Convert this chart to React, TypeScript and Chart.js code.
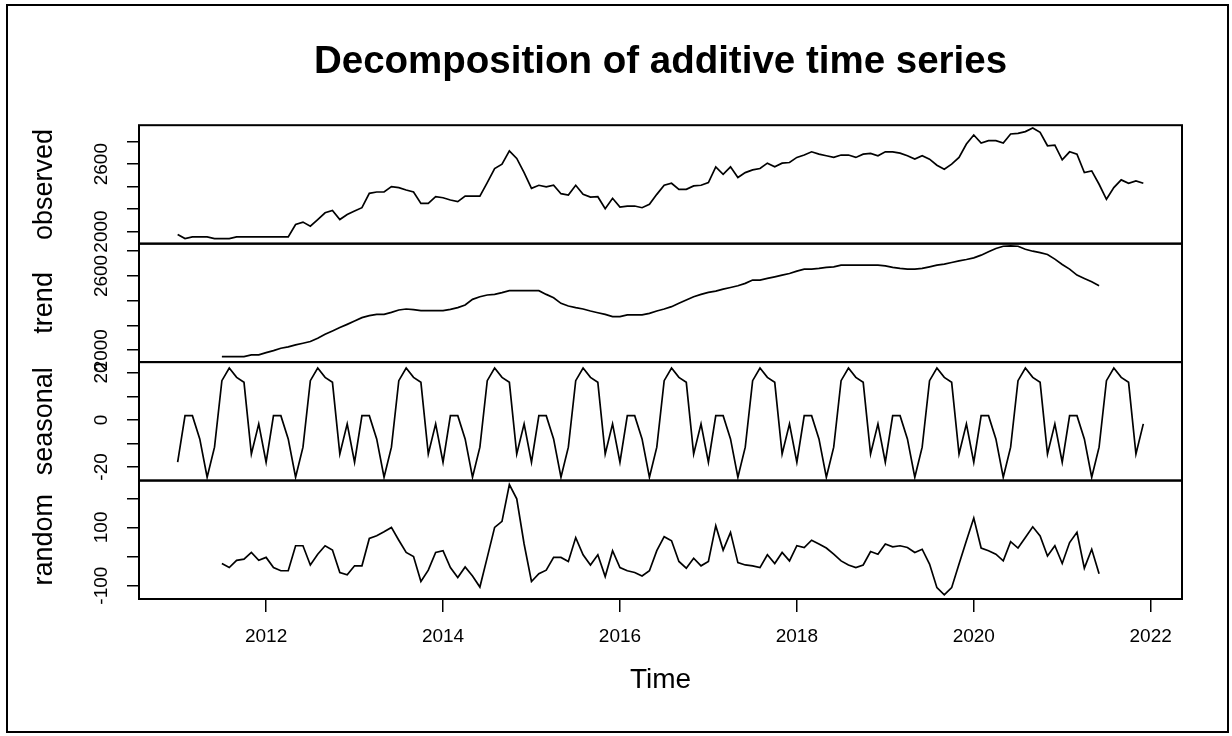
import React, { useEffect, useRef } from 'react';
import { Chart, registerables } from 'chart.js';

Chart.register(...registerables);

// ---- time base (monthly series, R ts start = 2011, frequency = 12)
const START_YEAR = 2011;
const FREQUENCY = 12;

// ---- observed series, Jan 2011 .. Dec 2021
const OBSERVED: number[] = [
  1973, 1937, 1952, 1952, 1952, 1937, 1937, 1937, 1952, 1952, 1952, 1952,
  1952, 1952, 1952, 1952, 2063, 2084, 2048, 2107, 2167, 2188, 2107, 2152,
  2182, 2212, 2340, 2352, 2352, 2400, 2391, 2370, 2352, 2251, 2251, 2310,
  2301, 2281, 2266, 2316, 2316, 2316, 2436, 2561, 2600, 2719, 2651, 2525,
  2385, 2412, 2397, 2412, 2337, 2325, 2412, 2331, 2307, 2310, 2203, 2296,
  2218, 2227, 2227, 2212, 2242, 2331, 2412, 2430, 2376, 2376, 2406, 2412,
  2436, 2576, 2510, 2576, 2481, 2525, 2549, 2561, 2609, 2576, 2609, 2615,
  2660, 2681, 2710, 2689, 2675, 2660, 2681, 2681, 2660, 2689, 2696, 2675,
  2710, 2710, 2698, 2675, 2645, 2675, 2645, 2591, 2555, 2600, 2660, 2779,
  2860, 2788, 2809, 2809, 2788, 2869, 2875, 2890, 2922, 2884, 2764, 2770,
  2639, 2710, 2689, 2525, 2540, 2421, 2287, 2391, 2460, 2430, 2451, 2430,
];

// ---- trend (moving average, NA at both ends)
const TREND: (number | null)[] = [
  null, null, null, null, null, null, 1949, 1949, 1949, 1949, 1962, 1962,
  1981, 1997, 2016, 2027, 2043, 2056, 2070, 2097, 2129, 2156, 2183, 2209,
  2236, 2263, 2279, 2290, 2290, 2306, 2325, 2333, 2328, 2320, 2320, 2320,
  2320, 2330, 2344, 2365, 2411, 2432, 2446, 2451, 2465, 2481, 2481, 2481,
  2481, 2481, 2451, 2424, 2379, 2357, 2344, 2333, 2317, 2303, 2290, 2271,
  2271, 2285, 2285, 2285, 2298, 2317, 2333, 2352, 2379, 2405, 2432, 2451,
  2467, 2478, 2494, 2507, 2521, 2540, 2567, 2567, 2580, 2593, 2607, 2620,
  2639, 2655, 2655, 2661, 2669, 2674, 2687, 2687, 2687, 2687, 2687, 2687,
  2682, 2669, 2661, 2655, 2655, 2661, 2674, 2687, 2696, 2709, 2722, 2733,
  2746, 2768, 2795, 2822, 2840, 2843, 2840, 2816, 2800, 2789, 2773, 2736,
  2693, 2655, 2607, 2580, 2553, 2521, null, null, null, null, null, null,
];

// ---- seasonal figure (same each year)
const SEASONAL: number[] = [
  -18.0, 1.8, 1.8, -8.1, -24.4, -11.6, 16.7, 22.1, 18.1, 16.0, -14.5, -1.7,
  -18.0, 1.8, 1.8, -8.1, -24.4, -11.6, 16.7, 22.1, 18.1, 16.0, -14.5, -1.7,
  -18.0, 1.8, 1.8, -8.1, -24.4, -11.6, 16.7, 22.1, 18.1, 16.0, -14.5, -1.7,
  -18.0, 1.8, 1.8, -8.1, -24.4, -11.6, 16.7, 22.1, 18.1, 16.0, -14.5, -1.7,
  -18.0, 1.8, 1.8, -8.1, -24.4, -11.6, 16.7, 22.1, 18.1, 16.0, -14.5, -1.7,
  -18.0, 1.8, 1.8, -8.1, -24.4, -11.6, 16.7, 22.1, 18.1, 16.0, -14.5, -1.7,
  -18.0, 1.8, 1.8, -8.1, -24.4, -11.6, 16.7, 22.1, 18.1, 16.0, -14.5, -1.7,
  -18.0, 1.8, 1.8, -8.1, -24.4, -11.6, 16.7, 22.1, 18.1, 16.0, -14.5, -1.7,
  -18.0, 1.8, 1.8, -8.1, -24.4, -11.6, 16.7, 22.1, 18.1, 16.0, -14.5, -1.7,
  -18.0, 1.8, 1.8, -8.1, -24.4, -11.6, 16.7, 22.1, 18.1, 16.0, -14.5, -1.7,
  -18.0, 1.8, 1.8, -8.1, -24.4, -11.6, 16.7, 22.1, 18.1, 16.0, -14.5, -1.7,
];

// ---- random (remainder, NA at both ends)
const RANDOM: (number | null)[] = [
  null, null, null, null, null, null, -24, -38, -13, -9, 14, -13,
  -3, -38, -49, -49, 37, 37, -29, 8, 37, 22, -55, -63,
  -32, -32, 62, 71, 85, 100, 56, 14, 0, -86, -47, 14,
  20, -38, -72, -36, -67, -105, -3, 100, 121, 247, 198, 43,
  -86, -59, -47, -3, -3, -17, 65, 6, -29, 6, -69, 20,
  -38, -49, -55, -67, -49, 20, 68, 54, -17, -40, -6, -32,
  -17, 106, 22, 83, -21, -29, -32, -38, 6, -24, 14, -15,
  37, 31, 56, 43, 29, 8, -15, -29, -38, -29, 17, 8,
  43, 33, 37, 31, 14, 25, -26, -107, -132, -107, -26, 54,
  132, 29, 20, 8, -15, 51, 29, 65, 102, 71, 2, 37,
  -24, 48, 83, -40, 25, -59, null, null, null, null, null, null,
];

// ---- axis ticks and labels
const X_TICKS = [2012, 2014, 2016, 2018, 2020, 2022];
const X_RANGE = [2010.563, 2022.354];

const OBS_TICKS = [2000, 2200, 2400, 2600, 2800];
const OBS_LABELS = [2000, 2600];
const OBS_RANGE = [1892, 2947];

const TREND_TICKS = [2000, 2200, 2400, 2600, 2800];
const TREND_LABELS = [2000, 2600];
const TREND_RANGE = [1904, 2861];

const SEAS_TICKS = [-20, -10, 0, 10, 20];
const SEAS_LABELS = [-20, 0, 20];
const SEAS_RANGE = [-25.8, 24.6];

const RAND_TICKS = [-100, 0, 100, 200];
const RAND_LABELS = [-100, 100];
const RAND_RANGE = [-146, 261];

const TITLE = 'Decomposition of additive time series';
const FONT = "'Liberation Sans', Arial, Helvetica, sans-serif";

const TIME = OBSERVED.map((_, i) => START_YEAR + i / FREQUENCY);

function toPoints(values: (number | null)[]) {
  return values.map((v, i) => ({ x: TIME[i], y: v }));
}

function yScale(
  weight: number,
  range: number[],
  ticks: number[],
  labels: number[],
  title: string,
  padding: number
) {
  return {
    type: 'linear' as const,
    position: 'left' as const,
    stack: 'panels',
    stackWeight: 1,
    weight,
    min: range[0],
    max: range[1],
    afterBuildTicks: (s: any) => {
      s.ticks = ticks.map((v) => ({ value: v }));
    },
    afterFit: (s: any) => {
      s.width = 139;
    },
    grid: {
      display: true,
      drawOnChartArea: false,
      drawTicks: true,
      tickLength: 12,
      color: '#000',
      lineWidth: 1.5,
    },
    border: { display: false },
    ticks: {
      autoSkip: false,
      minRotation: 90,
      maxRotation: 90,
      crossAlign: 'center' as const,
      padding,
      color: '#000',
      font: { family: FONT, size: 19 },
      callback: (v: any) => (labels.includes(Number(v)) ? String(v) : ''),
    },
    title: {
      display: true,
      text: title,
      color: '#000',
      font: { family: FONT, size: 27 },
      padding: { top: 28, bottom: 0 },
    },
  };
}

const framesPlugin = {
  id: 'frames',
  afterDraw(chart: any) {
    const { ctx, chartArea } = chart;
    ctx.save();
    ctx.strokeStyle = '#000';
    ctx.lineWidth = 2;
    for (const id of ['yObs', 'yTrend', 'ySeas', 'yRand']) {
      const s = chart.scales[id];
      ctx.strokeRect(chartArea.left, s.top, chartArea.right - chartArea.left, s.bottom - s.top);
    }
    ctx.strokeRect(7, 5, 1221, 727);
    ctx.restore();
  },
};

const bgPlugin = {
  id: 'bg',
  beforeDraw(chart: any) {
    const { ctx, width, height } = chart;
    ctx.save();
    ctx.fillStyle = '#fff';
    ctx.fillRect(0, 0, width, height);
    ctx.restore();
  },
};

export default function App() {
  const ref = useRef<HTMLCanvasElement | null>(null);

  useEffect(() => {
    if (!ref.current) return;
    const line = (data: (number | null)[], yAxisID: string) => ({
      data: toPoints(data),
      xAxisID: 'x',
      yAxisID,
      borderColor: '#000',
      borderWidth: 1.7,
      pointRadius: 0,
      tension: 0,
      spanGaps: false,
      fill: false,
    });
    const chart = new Chart(ref.current, {
      type: 'line',
      data: {
        datasets: [
          line(OBSERVED, 'yObs'),
          line(TREND, 'yTrend'),
          line(SEASONAL, 'ySeas'),
          line(RANDOM, 'yRand'),
        ],
      },
      options: {
        responsive: false,
        animation: false,
        devicePixelRatio: 1,
        events: [],
        layout: { padding: { left: 0, right: 50, top: 0, bottom: 0 } },
        plugins: {
          legend: { display: false },
          tooltip: { enabled: false },
          title: {
            display: true,
            fullSize: false,
            text: TITLE,
            color: '#000',
            font: { family: FONT, size: 38.5, weight: 'bold' },
            padding: { top: 39, bottom: 40 },
          },
        },
        scales: {
          x: {
            type: 'linear',
            position: 'bottom',
            min: X_RANGE[0],
            max: X_RANGE[1],
            afterBuildTicks: (s: any) => {
              s.ticks = X_TICKS.map((v) => ({ value: v }));
            },
            afterFit: (s: any) => {
              s.height = 137;
            },
            grid: {
              display: true,
              drawOnChartArea: false,
              drawTicks: true,
              tickLength: 13,
              color: '#000',
              lineWidth: 1.5,
            },
            border: { display: false },
            ticks: {
              autoSkip: false,
              maxRotation: 0,
              minRotation: 0,
              padding: 13,
              color: '#000',
              font: { family: FONT, size: 19 },
              callback: (v: any) => String(v),
            },
            title: {
              display: true,
              text: 'Time',
              color: '#000',
              font: { family: FONT, size: 28 },
              padding: { top: 0, bottom: 39 },
            },
          },
          yRand: yScale(1, RAND_RANGE, RAND_TICKS, RAND_LABELS, 'random', 6.3),
          ySeas: yScale(2, SEAS_RANGE, SEAS_TICKS, SEAS_LABELS, 'seasonal', 11.6),
          yTrend: yScale(3, TREND_RANGE, TREND_TICKS, TREND_LABELS, 'trend', 4.2),
          yObs: yScale(4, OBS_RANGE, OBS_TICKS, OBS_LABELS, 'observed', 4.2),
        },
      } as any,
      plugins: [bgPlugin, framesPlugin],
    });
    return () => chart.destroy();
  }, []);

  return (
    <div style={{ position: 'absolute', left: 0, top: 0, width: 1232, height: 736, background: '#fff' }}>
      <canvas ref={ref} width={1232} height={736} style={{ display: 'block' }} />
    </div>
  );
}
